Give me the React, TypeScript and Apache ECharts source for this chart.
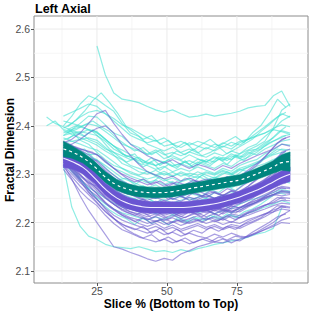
import React, { useEffect, useRef } from "react";
import * as echarts from "echarts";

const FONT = '"Liberation Sans", Arial, Helvetica, sans-serif';

const X_MIN = 2.5;
const X_MAX = 100.4;
const Y_MIN = 2.075;
const Y_MAX = 2.627;

const X_TICKS = [25, 50, 75];
const X_MINOR = [12.5, 37.5, 62.5, 87.5];
const Y_TICKS = [2.1, 2.2, 2.3, 2.4, 2.5, 2.6];
const Y_MINOR = [2.15, 2.25, 2.35, 2.45, 2.55];

const TITLE = "Left Axial";
const X_TITLE = "Slice % (Bottom to Top)";
const Y_TITLE = "Fractal Dimension";

// Slice positions (%) at which subject curves are sampled
const SLICE = [7, 10, 13, 16, 19, 22, 25, 28, 31, 34, 37, 40, 43, 46, 49, 52, 55, 58, 61, 64, 67, 70, 73, 76, 79, 82, 85, 88, 91, 94];
const SLICE2 = [14.5, 17.5, 20.5, 23.5, 26.5, 29.5, 32.5, 35.5, 38.5, 41.5, 44.5, 47.5, 50.5, 53.5, 56.5, 59.5, 62.5, 65.5, 68.5, 71.5, 74.5, 77.5, 80.5, 83.5, 86.5, 89.5, 92.5];
const _ = null;

// Fractal dimension per subject, in thousandths above 2.000 (e.g. 352 = 2.352)
// Group A (turquoise), sampled on SLICE
const T01 = [418, 405, 398, 390, 385, 372, 365, 352, 345, 338, 330, 335, 322, 330, 325, 334, 328, 320, 331, 325, 334, 328, 338, 332, 345, 340, 352, 360, 368, 372];
const T02 = [400, 410, 392, 388, 370, 362, 345, 330, 318, 312, 305, 298, 306, 296, 302, 295, 305, 298, 292, 303, 298, 306, 300, 310, 305, 316, 322, 330, 338, 345];
const T03 = [_, _, 420, 428, 436, 445, 440, 425, 410, 395, 380, 372, 365, 370, 358, 362, 355, 365, 358, 352, 362, 356, 366, 360, 372, 380, 385, 395, 402, 398];
const T04 = [_, _, _, _, _, _, 565, 505, 468, 455, 452, 448, 440, 433, 428, 433, 425, 418, 420, 424, 420, 423, 426, 430, 437, 440, 442, 462, 472, 440];
const T05 = [_, _, 400, 420, 445, 462, 455, 442, 430, 405, 385, 378, 362, 355, 348, 356, 345, 352, 344, 355, 348, 358, 352, 365, 372, 385, 398, 412, 425, 418];
const T06 = [_, _, 380, 392, 405, 420, 418, 402, 385, 378, 362, 355, 340, 346, 332, 338, 330, 340, 332, 325, 336, 330, 342, 335, 348, 352, 365, 375, 390, 385];
const T07 = [_, _, 370, 378, 385, 392, 388, 372, 358, 342, 335, 322, 318, 310, 316, 305, 312, 306, 315, 308, 302, 312, 306, 318, 325, 330, 342, 350, 362, 360];
const T08 = [_, _, 360, 352, 348, 340, 342, 325, 312, 305, 296, 290, 282, 288, 278, 285, 276, 282, 275, 284, 278, 286, 280, 290, 295, 302, 310, 318, 325, 322];
const T09 = [_, _, 350, 338, 322, 315, 300, 292, 280, 272, 268, 262, 258, 265, 255, 262, 252, 260, 256, 250, 262, 255, 264, 258, 270, 275, 285, 292, 302, 300];
const T10 = [_, _, 340, 325, 308, 292, 282, 268, 255, 245, 240, 236, 242, 235, 240, 232, 242, 236, 230, 240, 235, 244, 238, 248, 252, 262, 270, 278, 285, 282];
const T11 = [_, _, 330, 310, 290, 268, 252, 238, 228, 220, 215, 210, 205, 212, 206, 215, 208, 202, 210, 205, 214, 208, 216, 210, 220, 225, 232, 238, 245, 240];
const T12 = [_, _, 318, 232, 192, 172, 165, 155, 150, 148, 146, 150, 145, 140, 142, 138, 144, 140, 146, 150, 155, 158, 162, 165, 170, 176, 180, 188, 230, _];
const T13 = [_, _, 390, 382, 375, 368, 360, 348, 338, 330, 318, 312, 305, 298, 306, 296, 302, 295, 305, 298, 292, 303, 298, 308, 315, 322, 335, 342, 352, 350];
const T14 = [_, _, 410, 405, 400, 392, 385, 372, 358, 350, 340, 332, 325, 318, 326, 318, 322, 315, 325, 318, 312, 322, 316, 328, 335, 345, 358, 368, 378, 382];
const T15 = [_, _, 375, 368, 362, 355, 350, 338, 325, 312, 302, 296, 290, 295, 286, 292, 284, 290, 296, 288, 294, 286, 295, 290, 300, 308, 318, 325, 332, 330];
const T16 = [_, _, 345, 342, 338, 335, 330, 318, 305, 292, 285, 278, 272, 278, 268, 275, 266, 272, 268, 275, 270, 278, 272, 280, 285, 292, 300, 306, 312, 310];
const T17 = [_, _, 385, 392, 398, 404, 400, 388, 375, 362, 355, 348, 342, 350, 340, 345, 338, 346, 340, 335, 344, 338, 348, 342, 355, 362, 378, 392, 410, 420];
const T18 = [_, _, 365, 368, 372, 375, 370, 355, 340, 322, 315, 305, 300, 308, 298, 304, 296, 302, 298, 305, 300, 308, 302, 312, 318, 325, 332, 340, 345, 342];
const T19 = [_, _, 355, 345, 332, 325, 318, 302, 290, 278, 270, 262, 255, 250, 258, 248, 255, 246, 252, 258, 250, 256, 248, 258, 265, 272, 280, 288, 295, 292];
const T20 = [_, _, 395, 405, 418, 428, 432, 425, 415, 402, 395, 385, 375, 368, 375, 362, 368, 360, 368, 362, 355, 365, 358, 368, 372, 378, 385, 392, 388, 382];
const T21 = [_, _, 335, 322, 310, 300, 290, 278, 265, 255, 248, 240, 235, 230, 238, 228, 235, 226, 232, 238, 230, 236, 228, 238, 245, 250, 256, 262, 268, 265];
const T22 = [_, _, 380, 385, 388, 384, 380, 368, 352, 342, 335, 328, 322, 318, 325, 316, 322, 328, 320, 330, 325, 335, 330, 342, 350, 358, 368, 395, 432, 445];
const T23 = [_, _, 325, 305, 288, 272, 262, 250, 240, 232, 228, 222, 226, 218, 224, 216, 222, 228, 220, 226, 218, 225, 220, 230, 235, 242, 250, 258, 264, 262];
const T24 = [_, _, 350, 340, 325, 312, 298, 282, 268, 258, 252, 246, 250, 242, 248, 240, 246, 252, 245, 250, 243, 252, 246, 256, 262, 268, 276, 285, 290, 288];
// Group A (turquoise), sampled on SLICE2
const U01 = [372, 385, 378, 392, 380, 365, 352, 336, 342, 322, 334, 318, 330, 315, 328, 312, 325, 318, 332, 320, 338, 328, 345, 352, 365, 372, 380];
const U02 = [398, 412, 430, 452, 468, 448, 425, 398, 385, 372, 380, 362, 370, 355, 366, 350, 362, 372, 358, 368, 378, 365, 385, 400, 425, 455, 438];
const U03 = [358, 348, 352, 335, 322, 305, 292, 282, 268, 276, 262, 270, 258, 272, 260, 266, 255, 268, 262, 275, 266, 280, 288, 296, 310, 318, 312];
const U04 = [345, 330, 318, 298, 285, 268, 255, 242, 250, 236, 245, 230, 242, 235, 226, 240, 232, 244, 236, 248, 240, 252, 262, 268, 282, 290, 285];
const U05 = [385, 392, 402, 410, 398, 388, 372, 360, 348, 355, 340, 350, 335, 348, 340, 352, 338, 345, 356, 342, 352, 362, 372, 388, 402, 418, 428];
const U06 = [362, 352, 342, 330, 312, 298, 288, 292, 278, 290, 282, 295, 285, 278, 292, 284, 298, 288, 295, 305, 296, 310, 318, 325, 340, 352, 348];
const U07 = [328, 305, 280, 258, 240, 226, 215, 208, 196, 210, 198, 206, 195, 208, 200, 212, 202, 215, 206, 218, 210, 222, 228, 238, 250, 262, 258];
const U08 = [392, 400, 395, 388, 372, 352, 338, 325, 332, 315, 325, 308, 320, 312, 326, 315, 330, 322, 336, 328, 340, 335, 348, 355, 368, 385, 398];

// Group B (purple), sampled on SLICE
const P01 = [_, _, 365, 372, 385, 405, 425, 432, 405, 382, 362, 350, 338, 330, 322, 330, 320, 312, 320, 315, 308, 318, 312, 322, 330, 338, 345, 352, 362, 358];
const P02 = [_, _, 350, 345, 338, 332, 328, 312, 298, 285, 278, 270, 262, 268, 258, 265, 255, 262, 258, 252, 262, 256, 265, 260, 272, 280, 288, 296, 305, 300];
const P03 = [_, _, 340, 328, 312, 300, 290, 275, 258, 246, 240, 235, 228, 234, 226, 232, 225, 230, 236, 228, 234, 226, 235, 230, 240, 246, 255, 262, 272, 270];
const P04 = [_, _, 330, 316, 298, 285, 270, 252, 238, 225, 218, 212, 206, 212, 204, 210, 202, 208, 214, 206, 212, 205, 214, 210, 220, 228, 236, 242, 252, 250];
const P05 = [_, _, 320, 290, 255, 225, 200, 175, 150, 145, 138, 132, 125, 120, 126, 122, 135, 142, 150, 155, 160, 158, 165, 162, 172, 180, 190, 200, 215, 225];
const P06 = [_, _, 335, 322, 308, 295, 282, 265, 250, 236, 228, 222, 216, 224, 215, 220, 212, 222, 216, 224, 218, 226, 220, 230, 236, 242, 250, 258, 265, 262];
const P07 = [_, _, 325, 308, 290, 275, 260, 242, 228, 215, 208, 198, 192, 198, 188, 195, 186, 192, 198, 190, 196, 188, 196, 192, 202, 210, 218, 226, 232, 230];
const P08 = [_, _, 345, 338, 328, 316, 302, 285, 270, 258, 250, 245, 238, 244, 236, 242, 234, 240, 246, 238, 244, 236, 245, 240, 252, 260, 270, 280, 290, 288];
const P09 = [_, _, 355, 350, 342, 332, 320, 305, 290, 278, 270, 262, 256, 250, 258, 248, 255, 246, 252, 258, 250, 256, 250, 260, 268, 278, 290, 300, 312, 310];
const P10 = [_, _, 315, 295, 275, 258, 240, 222, 208, 196, 190, 184, 178, 184, 175, 180, 172, 178, 172, 168, 176, 170, 178, 172, 170, 178, 185, 192, 200, 198];
const P11 = [_, _, 340, 330, 320, 310, 300, 285, 272, 262, 258, 252, 246, 252, 245, 250, 244, 252, 248, 255, 250, 258, 255, 265, 275, 288, 305, 322, 345, 352];
const P12 = [_, _, 330, 312, 295, 282, 275, 258, 245, 232, 222, 215, 208, 202, 208, 200, 206, 198, 204, 210, 202, 208, 200, 210, 215, 222, 228, 235, 240, 238];
const P13 = [_, _, 360, 355, 352, 346, 340, 325, 312, 300, 292, 285, 278, 284, 275, 282, 274, 280, 286, 278, 284, 276, 285, 282, 292, 302, 315, 322, 330, 328];
const P14 = [_, _, 320, 300, 282, 268, 255, 240, 228, 218, 210, 205, 198, 204, 196, 202, 194, 200, 206, 198, 204, 196, 202, 198, 206, 212, 218, 222, 228, 225];
const P15 = [_, _, 335, 322, 310, 298, 285, 270, 258, 248, 240, 232, 226, 232, 222, 228, 220, 226, 232, 224, 230, 222, 230, 226, 235, 242, 252, 258, 266, 264];
const P16 = [_, _, 350, 342, 332, 320, 310, 295, 280, 268, 258, 250, 244, 238, 245, 236, 242, 234, 240, 246, 238, 245, 240, 250, 258, 270, 288, 305, 325, 340];
const P17 = [_, _, 325, 312, 298, 282, 265, 250, 238, 228, 222, 218, 212, 218, 210, 216, 208, 214, 220, 212, 218, 210, 218, 214, 222, 230, 236, 240, 246, 245];
const P18 = [_, _, 345, 332, 318, 302, 290, 272, 258, 245, 238, 232, 226, 232, 224, 230, 222, 228, 234, 226, 232, 225, 234, 230, 240, 250, 258, 266, 275, 272];
const P19 = [_, _, 310, 288, 265, 248, 235, 215, 198, 185, 178, 170, 165, 160, 166, 158, 164, 156, 162, 168, 160, 166, 158, 166, 172, 178, 186, 195, 205, 210];
const P20 = [_, _, 355, 362, 372, 385, 395, 400, 385, 360, 338, 320, 305, 298, 290, 296, 286, 292, 284, 290, 282, 290, 285, 295, 305, 318, 335, 355, 372, 378];
const P21 = [_, _, 340, 325, 312, 305, 295, 278, 265, 252, 242, 235, 228, 222, 230, 222, 228, 220, 226, 232, 224, 230, 222, 232, 238, 245, 252, 258, 255, 258];
const P22 = [_, _, 330, 318, 305, 292, 280, 265, 250, 240, 232, 226, 220, 226, 218, 224, 216, 222, 228, 220, 226, 218, 226, 222, 232, 240, 248, 256, 262, 260];
const P23 = [_, _, 328, 305, 285, 262, 248, 230, 215, 205, 198, 192, 186, 192, 184, 190, 182, 188, 194, 186, 192, 185, 192, 188, 196, 204, 212, 222, 235, 232];
const P24 = [_, _, 368, 360, 350, 340, 325, 308, 292, 280, 270, 265, 258, 264, 256, 262, 254, 260, 266, 258, 264, 256, 266, 262, 275, 290, 305, 320, 335, 330];
// Group B (purple), sampled on SLICE2
const Q01 = [338, 322, 302, 282, 262, 248, 236, 228, 235, 222, 230, 218, 228, 216, 226, 220, 232, 222, 230, 224, 236, 242, 250, 262, 272, 285, 282];
const Q02 = [318, 298, 276, 252, 232, 215, 202, 192, 185, 192, 178, 188, 176, 186, 175, 184, 178, 190, 182, 192, 186, 196, 202, 210, 222, 235, 232];
const Q03 = [352, 345, 335, 322, 306, 290, 275, 265, 258, 265, 252, 260, 248, 258, 250, 262, 254, 265, 258, 270, 265, 278, 288, 302, 318, 335, 348];
const Q04 = [328, 310, 290, 268, 250, 232, 220, 210, 202, 210, 198, 206, 196, 205, 198, 208, 200, 210, 204, 214, 206, 216, 222, 230, 240, 252, 248];
const Q05 = [345, 336, 325, 310, 292, 275, 262, 250, 242, 248, 236, 245, 232, 242, 235, 246, 238, 248, 240, 252, 245, 256, 265, 275, 290, 305, 300];
const Q06 = [322, 302, 280, 258, 238, 218, 200, 186, 176, 168, 175, 162, 170, 160, 168, 158, 166, 160, 170, 164, 172, 168, 180, 190, 200, 212, 218];
const Q07 = [360, 356, 350, 345, 335, 320, 305, 292, 284, 290, 278, 286, 275, 284, 278, 288, 280, 290, 284, 295, 290, 302, 315, 328, 345, 365, 375];
const Q08 = [332, 315, 298, 278, 260, 244, 232, 222, 215, 222, 210, 218, 208, 216, 210, 220, 212, 222, 215, 226, 220, 230, 238, 248, 260, 272, 270];

const GROUP_A = [T01, T02, T03, T04, T05, T06, T07, T08, T09, T10, T11, T12, T13, T14, T15, T16, T17, T18, T19, T20, T21, T22, T23, T24];
const GROUP_A2 = [U01, U02, U03, U04, U05, U06, U07, U08];
const GROUP_B = [P01, P02, P03, P04, P05, P06, P07, P08, P09, P10, P11, P12, P13, P14, P15, P16, P17, P18, P19, P20, P21, P22, P23, P24];
const GROUP_B2 = [Q01, Q02, Q03, Q04, Q05, Q06, Q07, Q08];

// Smoothed group fits and their confidence half-widths (thousandths)
const SMOOTH_X = [13, 16, 20, 24, 28, 32, 36, 40, 44, 48, 52, 56, 60, 64, 68, 72, 76, 80, 84, 88, 91, 94];
const TEAL_FIT = [352, 346, 334, 316, 294, 278, 269, 264, 262, 262, 264, 268, 272, 276, 280, 284, 288, 296, 305, 315, 324, 326];
const TEAL_SE = [16, 13, 11, 11, 11, 11, 11, 11, 11, 11, 11, 11, 11, 11, 11, 11, 11, 11, 12, 13, 16, 20];
const PURPLE_FIT = [333, 326, 314, 293, 269, 251, 240, 234, 231, 231, 231, 231, 233, 236, 240, 246, 253, 262, 272, 284, 293, 300];
const PURPLE_SE = [19, 15, 13, 12, 12, 12, 12, 12, 12, 12, 12, 12, 12, 12, 12, 12, 12, 12, 12, 13, 14, 15];

const fd = (n: number) => 2 + n / 1000;

function lineData(xs: number[], vals: (number | null)[]) {
  const out: number[][] = [];
  vals.forEach((v, i) => {
    if (v !== null) out.push([xs[i], fd(v)]);
  });
  return out;
}

function thinSeries(xs: number[], vals: (number | null)[], color: string) {
  return {
    type: "line",
    data: lineData(xs, vals),
    symbol: "none",
    showSymbol: false,
    silent: true,
    z: 2,
    lineStyle: { color, width: 1.2, opacity: 0.58 },
  };
}

function ribbonSeries(fit: number[], se: number[], color: string) {
  return {
    type: "custom",
    silent: true,
    z: 3,
    data: [[50, 2.3]],
    renderItem: (_p: any, api: any) => {
      const pts: number[][] = [];
      for (let i = 0; i < SMOOTH_X.length; i++) pts.push(api.coord([SMOOTH_X[i], fd(fit[i] + se[i])]));
      for (let i = SMOOTH_X.length - 1; i >= 0; i--) pts.push(api.coord([SMOOTH_X[i], fd(fit[i] - se[i])]));
      return { type: "polygon", shape: { points: pts }, style: { fill: color, stroke: color, lineWidth: 0.5 } };
    },
  };
}

function fitLine(fit: number[], style: any) {
  return {
    type: "line",
    data: SMOOTH_X.map((x, i) => [x, fd(fit[i])]),
    smooth: true,
    symbol: "none",
    showSymbol: false,
    silent: true,
    z: 4,
    lineStyle: style,
  };
}

const gridSeries = {
  type: "custom",
  silent: true,
  z: 1,
  data: [[50, 2.3]],
  renderItem: (_p: any, api: any) => {
    const children: any[] = [];
    const vline = (v: number, stroke: string, w: number) => {
      const a = api.coord([v, Y_MIN]);
      const b = api.coord([v, Y_MAX]);
      children.push({ type: "line", shape: { x1: a[0], y1: a[1], x2: b[0], y2: b[1] }, style: { stroke, lineWidth: w } });
    };
    const hline = (v: number, stroke: string, w: number) => {
      const a = api.coord([X_MIN, v]);
      const b = api.coord([X_MAX, v]);
      children.push({ type: "line", shape: { x1: a[0], y1: a[1], x2: b[0], y2: b[1] }, style: { stroke, lineWidth: w } });
    };
    X_MINOR.forEach((v) => vline(v, "#f3f3f3", 0.8));
    Y_MINOR.forEach((v) => hline(v, "#f3f3f3", 0.8));
    X_TICKS.forEach((v) => vline(v, "#ebebeb", 1));
    Y_TICKS.forEach((v) => hline(v, "#ebebeb", 1));
    return { type: "group", children };
  },
};

const TURQ = "#40e0d0";
const PURP = "#6a5acd";

export default function App() {
  const ref = useRef<HTMLDivElement>(null);
  useEffect(() => {
    if (!ref.current) return;
    const chart = echarts.init(ref.current, undefined, { renderer: "svg" });
    const option: any = {
      animation: false,
      backgroundColor: "#ffffff",
      textStyle: { fontFamily: FONT },
      grid: {
        left: 34,
        right: 4,
        top: 16,
        bottom: 29,
        show: true,
        borderColor: "#8c8c8c",
        borderWidth: 1,
        backgroundColor: "transparent",
        containLabel: false,
        outerBoundsMode: "none",
      },
      xAxis: {
        type: "value",
        min: X_MIN,
        max: X_MAX,
        axisLine: { show: false },
        splitLine: { show: false },
        axisTick: { show: true, customValues: X_TICKS, length: 3, lineStyle: { color: "#555" } },
        axisLabel: { customValues: X_TICKS, color: "#4d4d4d", fontSize: 10.5, lineHeight: 11, margin: 2.5, fontFamily: FONT },
      },
      yAxis: {
        type: "value",
        min: Y_MIN,
        max: Y_MAX,
        axisLine: { show: false },
        splitLine: { show: false },
        axisTick: { show: true, customValues: Y_TICKS, length: 3, lineStyle: { color: "#555" } },
        axisLabel: {
          customValues: Y_TICKS,
          color: "#4d4d4d",
          fontSize: 10.5,
          margin: 4,
          fontFamily: FONT,
          formatter: (v: number) => v.toFixed(1),
        },
      },
      graphic: [
        { type: "text", x: 35, y: 9, style: { text: TITLE, font: `bold 12.5px ${FONT}`, fill: "#000", align: "left", verticalAlign: "middle" } },
        { type: "text", x: 171, y: 303.5, style: { text: X_TITLE, font: `bold 12px ${FONT}`, fill: "#000", align: "center", verticalAlign: "middle" } },
        { type: "text", x: 10, y: 150, rotation: Math.PI / 2, style: { text: Y_TITLE, font: `bold 12px ${FONT}`, fill: "#000", align: "center", verticalAlign: "middle" } },
      ],
      series: [
        gridSeries,
        ...GROUP_A.map((v) => thinSeries(SLICE, v, TURQ)),
        ...GROUP_A2.map((v) => thinSeries(SLICE2, v, TURQ)),
        ...GROUP_B.map((v) => thinSeries(SLICE, v, PURP)),
        ...GROUP_B2.map((v) => thinSeries(SLICE2, v, PURP)),
        ribbonSeries(PURPLE_FIT, PURPLE_SE, "#6a55d2"),
        ribbonSeries(TEAL_FIT, TEAL_SE, "#00857e"),
        fitLine(PURPLE_FIT, { color: "#f2efff", width: 1.1 }),
        fitLine(TEAL_FIT, { color: "#ffffff", width: 1.2, type: [3, 3] }),
      ],
    };
    chart.setOption(option);
    return () => chart.dispose();
  }, []);
  return <div ref={ref} style={{ position: "fixed", left: 0, top: 0, width: 312, height: 312 }} />;
}
